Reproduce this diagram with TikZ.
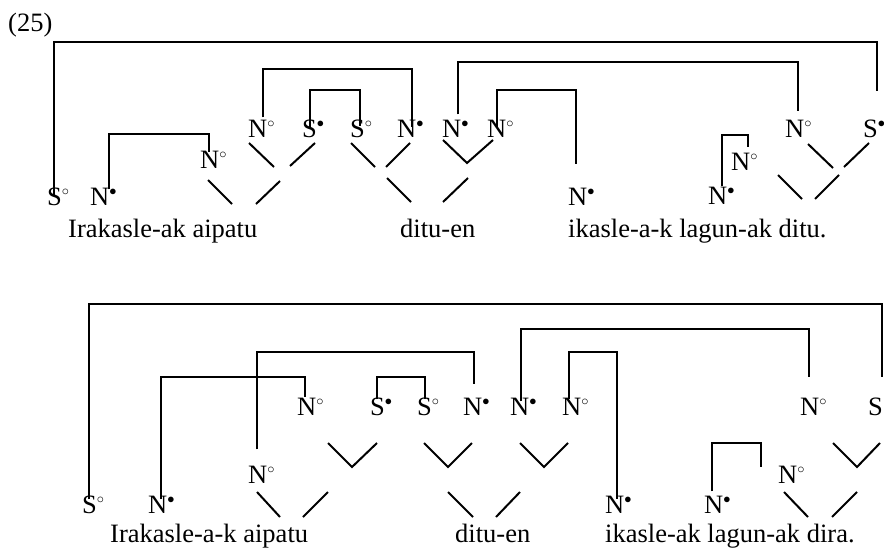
\documentclass[tikz,border=0pt]{standalone}
\usepackage{fontspec}
\setmainfont{Liberation Serif}
\newcommand{\Nci}{N\rlap{\smash{$^{\scriptscriptstyle\circ}$}}}
\newcommand{\Nbu}{N\rlap{\smash{$^{\scriptscriptstyle\bullet}$}}}
\newcommand{\Sci}{S\rlap{\smash{$^{\scriptscriptstyle\circ}$}}}
\newcommand{\Sbu}{S\rlap{\smash{$^{\scriptscriptstyle\bullet}$}}}

\begin{document}
\begin{tikzpicture}[x=1pt,y=-1pt,font=\fontsize{26.5}{30}\selectfont,
  sym/.style={anchor=base west,inner sep=0pt},
  gloss/.style={anchor=base west,inner sep=0pt},
  link/.style={line width=2pt},
  branch/.style={line width=2pt}]
\useasboundingbox (0,0) rectangle (884,549);
\node[gloss] (ex) at (8,31) {(25)};
% upper analysis
\node[sym] (tS1) at (47,205) {\Sci};
\node[sym] (tN1) at (90,205) {\Nbu};
\node[sym] (tN2) at (200,168) {\Nci};
\node[sym] (tN3) at (248,137) {\Nci};
\node[sym] (tS2) at (302,137) {\Sbu};
\node[sym] (tS3) at (350,137) {\Sci};
\node[sym] (tN4) at (397,137) {\Nbu};
\node[sym] (tN5) at (442,137) {\Nbu};
\node[sym] (tN6) at (487,137) {\Nci};
\node[sym] (tN7) at (568,205) {\Nbu};
\node[sym] (tN8) at (708,204) {\Nbu};
\node[sym] (tN9) at (731,170) {\Nci};
\node[sym] (tN10) at (785,137) {\Nci};
\node[sym] (tS4) at (863,137) {\Sbu};
\node[gloss] (tw1) at (68,237) {Irakasle-ak aipatu};
\node[gloss] (tw2) at (400,237) {ditu-en};
\node[gloss] (tw3) at (568,237) {ikasle-a-k lagun-ak ditu.};
\draw[link] ([shift={(-1,9)}]tS1.north) -- ++(0,-154) -| ([shift={(6,-28)}]tS4.north);
\draw[link] ([shift={(9,2)}]tN1.north) -- ++(0,-55) -| ([shift={(-1,2)}]tN2.north);
\draw[link] ([shift={(5,-2)}]tN3.north) -- ++(0,-48) -| ([shift={(5,8)}]tN4.north);
\draw[link] ([shift={(0,8)}]tS2.north) -- ++(0,-37) -| ([shift={(2,7)}]tS3.north);
\draw[link] ([shift={(6,-5)}]tN5.north) -- ++(0,-52) -| ([shift={(3,-8)}]tN10.north);
\draw[link] ([shift={(0,8)}]tN6.north) -- ++(0,-37) -| ([shift={(-2,-23)}]tN7.north);
\draw[link] ([shift={(4,0)}]tN8.north) -- ++(0,-51) -| ([shift={(7,-5)}]tN9.north);
\draw[branch] (249,143) -- (274,167) (290,166) -- (315,143);
\draw[branch] (351,143) -- (375,167) (386,167) -- (410,143);
\draw[branch] (443,140) -- (467,163) -- (493,140);
\draw[branch] (208,180) -- (232,204) (256,204) -- (280,181);
\draw[branch] (387,178) -- (411,202) (443,202) -- (468,178);
\draw[branch] (808,144) -- (833,168) (844,167) -- (869,143);
\draw[branch] (778,175) -- (802,199) (815,199) -- (839,175);
% lower analysis
\node[sym] (bS1) at (82,513) {\Sci};
\node[sym] (bN1) at (148,513) {\Nbu};
\node[sym] (bN2) at (248,483) {\Nci};
\node[sym] (bN3) at (297,415) {\Nci};
\node[sym] (bS2) at (370,415) {\Sbu};
\node[sym] (bS3) at (417,415) {\Sci};
\node[sym] (bN4) at (463,415) {\Nbu};
\node[sym] (bN5) at (510,415) {\Nbu};
\node[sym] (bN6) at (562,415) {\Nci};
\node[sym] (bN7) at (605,513) {\Nbu};
\node[sym] (bN8) at (704,513) {\Nbu};
\node[sym] (bN9) at (778,483) {\Nci};
\node[sym] (bN10) at (800,415) {\Nci};
\node[sym] (bS4) at (868,415) {S};
\node[gloss] (bw1) at (110,542) {Irakasle-a-k aipatu};
\node[gloss] (bw2) at (455,542) {ditu-en};
\node[gloss] (bw3) at (605,542) {ikasle-ak lagun-ak dira.};
\draw[link] ([shift={(-1,4)}]bS1.north) -- ++(0,-195) -| ([shift={(6,-20)}]bS4.north);
\draw[link] ([shift={(3,4)}]bN1.north) -- ++(0,-122) -| ([shift={(-2,0)}]bN3.north);
\draw[link] ([shift={(-1,-16)}]bN2.north) -- ++(0,-97) -| ([shift={(1,-13)}]bN4.north);
\draw[link] ([shift={(-1,2)}]bS2.north) -- ++(0,-22) -| ([shift={(0,2)}]bS3.north);
\draw[link] ([shift={(1,4)}]bN5.north) -- ++(0,-72) -| ([shift={(-1,-20)}]bN10.north);
\draw[link] ([shift={(-3,2)}]bN6.north) -- ++(0,-47) -| ([shift={(2,4)}]bN7.north);
\draw[link] ([shift={(-2,-4)}]bN8.north) -- ++(0,-48) -| ([shift={(-27,2)}]bN9.north);
\draw[branch] (257,492) -- (280,517) (303,517) -- (328,492);
\draw[branch] (328,443) -- (352,467) -- (377,443);
\draw[branch] (424,443) -- (448,467) -- (472,443);
\draw[branch] (520,443) -- (544,467) -- (568,443);
\draw[branch] (448,492) -- (473,517) (496,517) -- (520,492);
\draw[branch] (833,443) -- (857,467) -- (880,443);
\draw[branch] (784,492) -- (808,517) (832,517) -- (857,492);
\end{tikzpicture}
\end{document}
